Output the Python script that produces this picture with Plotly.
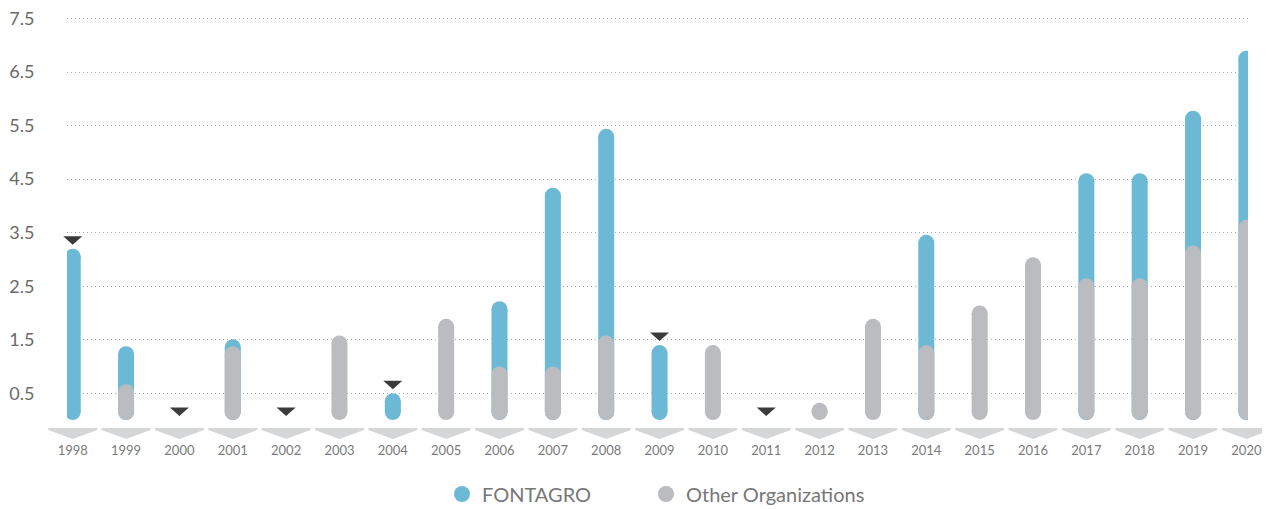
import plotly.graph_objects as go

years = list(range(1998, 2021))
fontagro = [3.2, 1.38, 0, 1.51, 0, 0, 0.5, 0, 2.22, 4.34, 5.44, 1.40, 0, 0, 0,
            0, 3.46, 0, 0, 4.61, 4.61, 5.78, 6.90]
other = [0, 0.67, 0, 1.38, 0, 1.58, 0, 1.89, 1.0, 1.0, 1.58, 0, 1.40, 0, 0.32,
         1.89, 1.40, 2.14, 3.04, 2.65, 2.65, 3.26, 3.74]
flag_years = [1998, 2000, 2002, 2004, 2009, 2011]
y_ticks = [0.5, 1.5, 2.5, 3.5, 4.5, 5.5, 6.5, 7.5]

BLUE = "#6cb9d5"
GREY = "#bbbcc0"
FONT = "Lato"

# the page places the figure 8px from its top-left corner
W, H = 1262, 501
ML, MR, MT, MB = 59, 22, 2, 89
PLOT_H = H - MT - MB

X0, X1 = 1997.893, 2020.03
Y0, Y1 = 0, 7.66
BAR_PX = 16
R_DATA = (BAR_PX / 2) * (Y1 - Y0) / PLOT_H  # cap radius in data units

fig = go.Figure()


def add_capsules(values, color):
    xs, ys = [], []
    for yr, v in zip(years, values):
        if v > 0:
            xs += [yr, yr, None]
            ys += [R_DATA, v - R_DATA, None]
    fig.add_trace(go.Scatter(x=xs, y=ys, mode="lines+markers",
                             line=dict(color=color, width=BAR_PX),
                             marker=dict(color=color, size=BAR_PX, symbol="circle", line_width=0),
                             showlegend=False, hoverinfo="skip"))


add_capsules(fontagro, BLUE)
add_capsules(other, GREY)

# legend entries
fig.add_trace(go.Scatter(x=[None], y=[None], mode="markers", name="FONTAGRO", legend="legend",
                         marker=dict(color=BLUE, size=17, symbol="circle")))
fig.add_trace(go.Scatter(x=[None], y=[None], mode="markers", name="Other Organizations", legend="legend2",
                         marker=dict(color=GREY, size=17, symbol="circle")))

shapes = []
# chevrons under each year
for yr in years:
    px = (yr - X0) / (X1 - X0)
    shapes.append(dict(type="path", xref="paper", yref="paper", xsizemode="pixel", ysizemode="pixel",
                       xanchor=px, yanchor=0,
                       path="M -24.5,-8 L 24.5,-8 L 24.5,-10 L 0,-19 L -24.5,-10 Z",
                       fillcolor="#d5d6d8", line=dict(width=0), layer="above"))
# dark flag triangles
for yr in flag_years:
    i = years.index(yr)
    top = max(fontagro[i], other[i])
    px = (yr - X0) / (X1 - X0)
    py = (top - Y0) / (Y1 - Y0)
    shapes.append(dict(type="path", xref="paper", yref="paper", xsizemode="pixel", ysizemode="pixel",
                       xanchor=px, yanchor=py,
                       path="M -9.5,12.5 L 9.5,12.5 L 0,4 Z",
                       fillcolor="#3b3b3b", line=dict(width=0), layer="above"))

legend_common = dict(orientation="h", xref="container", yref="container", y=0.0299,
                     xanchor="left", yanchor="middle",
                     font=dict(size=20, color="#777777", family=FONT), itemsizing="trace",
                     bgcolor="rgba(0,0,0,0)")

fig.update_layout(
    width=W, height=H,
    margin=dict(l=ML, r=MR, t=MT, b=MB, autoexpand=False),
    paper_bgcolor="white", plot_bgcolor="white",
    shapes=shapes,
    font=dict(family=FONT, color="#666666"),
    xaxis=dict(range=[X0, X1], tickmode="array", tickvals=years, ticktext=[str(y) for y in years],
               showgrid=False, zeroline=False, showline=False,
               ticks="outside", ticklen=18, tickcolor="rgba(0,0,0,0)",
               tickfont=dict(size=13, color="#7a7a7a", family=FONT)),
    yaxis=dict(range=[Y0, Y1], tickmode="array", tickvals=y_ticks, ticktext=[str(v) for v in y_ticks],
               showgrid=True, gridcolor="#aaaaaa", griddash="1px,3px", gridwidth=1,
               zeroline=False, showline=False, ticklabeloverflow="allow",
               ticks="outside", ticklen=28, tickcolor="rgba(0,0,0,0)",
               tickfont=dict(size=18, color="#6a6a6a", family=FONT)),
    legend=dict(x=434 / W, **legend_common),
    legend2=dict(x=638 / W, **legend_common),
)

fig.write_html("out.html")
